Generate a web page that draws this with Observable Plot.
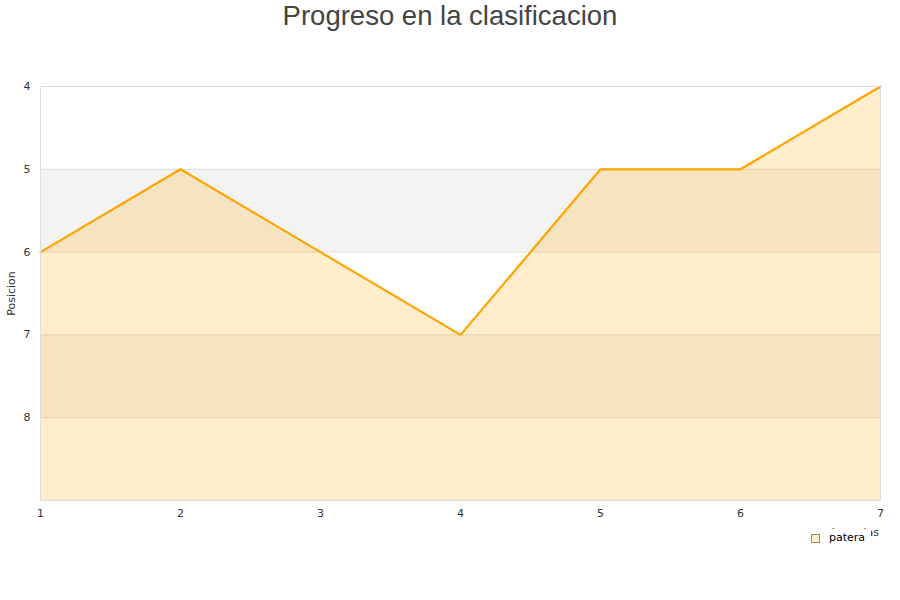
<!DOCTYPE html>
<html>
<head>
<meta charset="utf-8">
<script src="https://cdn.jsdelivr.net/npm/d3@7"></script>
<script src="https://cdn.jsdelivr.net/npm/@observablehq/plot@0.6"></script>
<style>
  html, body { margin: 0; padding: 0; background: #fff; }
  #wrap { position: relative; width: 900px; height: 600px; overflow: hidden; }
  #title { position: absolute; left: 0; top: 0; width: 900px; text-align: center;
    font-family: "Liberation Sans", Arial, sans-serif; font-size: 27.5px; color: #444; line-height: 32px; }
  #xlabel { position: absolute; right: 21px; top: 526px; font-family: "DejaVu Sans", sans-serif;
    font-size: 11px; color: #333; line-height: 13px; }
  #legend { position: absolute; left: 800px; top: 529px; width: 71px; height: 22px; background: #fff;
    font-family: "DejaVu Sans", sans-serif; font-size: 11px; color: #000; }
  #legend .sw { position: absolute; left: 11px; top: 5px; width: 7px; height: 7px;
    background: #ffedcb; border: 1px solid #9a8a70; }
  #legend .lt { position: absolute; left: 29px; top: 2px; }
</style>
</head>
<body>
<div id="wrap">
  <div id="chart"></div>
  <div id="title">Progreso en la clasificacion</div>
  <div id="xlabel">Jornadas</div>
  <div id="legend"><div class="sw"></div><div class="lt">patera</div></div>
</div>
<script>
const jornadas = [1, 2, 3, 4, 5, 6, 7];
const posiciones = [6, 5, 6, 7, 5, 5, 4];
const yTicks = [4, 5, 6, 7, 8];
const yDomain = [4, 9];
const bandStarts = [5, 7];
const serie = "patera";

const data = jornadas.map((j, i) => ({ j, p: posiciones[i] }));
const bands = bandStarts.map(s => ({ y1: s, y2: s + 1 }));

const chart = Plot.plot({
  width: 900,
  height: 600,
  marginLeft: 40,
  marginRight: 20,
  marginTop: 86,
  marginBottom: 100,
  style: { fontFamily: "DejaVu Sans, sans-serif", fontSize: "11px", color: "#333", background: "transparent" },
  x: { domain: [jornadas[0], jornadas[jornadas.length - 1]] },
  y: { domain: yDomain, reverse: true },
  marks: [
    Plot.rect(bands, { x1: () => jornadas[0], x2: () => jornadas[jornadas.length - 1], y1: "y1", y2: "y2", fill: "#f3f3f3" }),
    Plot.gridY(yTicks, { stroke: "#dddddd", strokeOpacity: 1 }),
    Plot.area(data, { x1: "j", y1: () => yDomain[1], y2: "p", fill: "#ffa500", fillOpacity: 0.2 }),
    Plot.line(data, { x: "j", y: "p", stroke: "#ffa500", strokeWidth: 2.2 }),
    Plot.frame({ stroke: "#dddddd" }),
    Plot.axisY(yTicks, { tickSize: 0, tickPadding: 10, label: null, fill: "#333", tickFormat: d3.format("d") }),
    Plot.axisX(jornadas, { tickSize: 0, tickPadding: 9, label: null, fill: "#333", tickFormat: d3.format("d") }),
    Plot.text(["Posicion"], { frameAnchor: "left", textAnchor: "middle", dx: -29, rotate: -90, fill: "#333", fontSize: 11 })
  ]
});
document.getElementById("chart").appendChild(chart);
</script>
</body>
</html>
